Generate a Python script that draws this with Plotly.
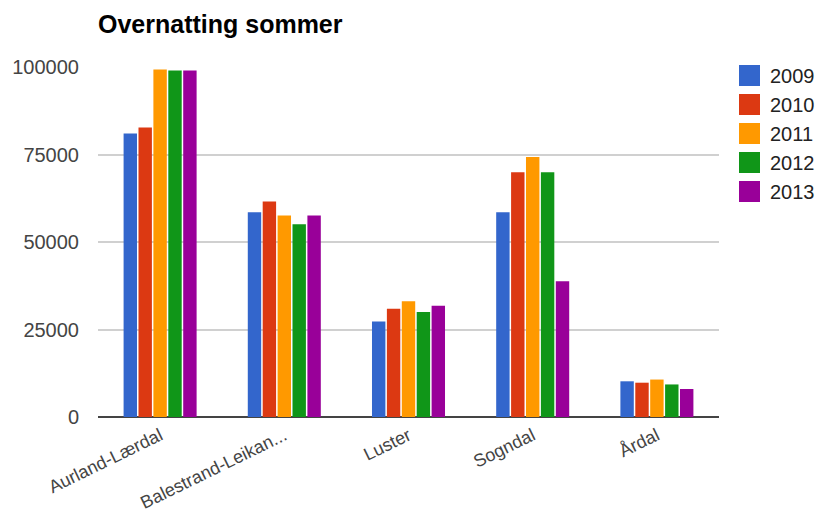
import plotly.graph_objects as go

# Overnight stays, summer season, per region and year
regions = ["Aurland-Lærdal", "Balestrand-Leikan...", "Luster", "Sogndal", "Årdal"]
years = ["2009", "2010", "2011", "2012", "2013"]
colors = ["#3366cc", "#dc3912", "#ff9900", "#109618", "#990099"]

stays_2009 = [81000, 58500, 27300, 58500, 10200]
stays_2010 = [82700, 61600, 30900, 69900, 9800]
stays_2011 = [99300, 57600, 33100, 74300, 10700]
stays_2012 = [99000, 55100, 30000, 69900, 9300]
stays_2013 = [99000, 57600, 31800, 38800, 8000]
series = [stays_2009, stays_2010, stays_2011, stays_2012, stays_2013]

y_ticks = [0, 25000, 50000, 75000, 100000]

FONT = "Arial, Liberation Sans, sans-serif"

fig = go.Figure()
for name, vals, col in zip(years, series, colors):
    fig.add_trace(go.Bar(
        x=regions, y=vals, name=name,
        marker=dict(color=col, line=dict(width=0)),
        showlegend=False,
    ))

# Legend: coloured squares with year labels to the right of the plot
shapes = []
annotations = []
row0, row_step = 8.5, 29.0  # pixel offsets below the plot top
for i, (name, col) in enumerate(zip(years, colors)):
    yc = row0 + i * row_step
    shapes.append(dict(
        type="rect", xref="paper", yref="paper",
        xsizemode="pixel", ysizemode="pixel",
        xanchor=1.0, yanchor=1.0,
        x0=20, x1=41, y0=-(yc + 10.5), y1=-(yc - 10.5),
        fillcolor=col, line=dict(width=0),
    ))
    annotations.append(dict(
        text=name, xref="paper", yref="paper", x=1.0, y=1.0,
        xshift=49, yshift=-yc, xanchor="left", yanchor="middle",
        showarrow=False, font=dict(family=FONT, size=20, color="#222222"),
    ))

# Chart title
annotations.append(dict(
    text="<b>Overnatting sommer</b>", xref="paper", yref="paper",
    x=0.0, y=1.0, xshift=-2, yshift=43, xanchor="left", yanchor="middle",
    showarrow=False, font=dict(family=FONT, size=25, color="#000000"),
))

fig.update_layout(
    width=817, height=517,
    margin=dict(l=98, r=98, t=67, b=100),
    paper_bgcolor="white", plot_bgcolor="white",
    barmode="group", bargap=0.4, bargroupgap=0.1,
    font=dict(family=FONT, size=20, color="#444444"),
    shapes=shapes, annotations=annotations,
    xaxis=dict(
        tickangle=-26, tickfont=dict(size=18, color="#444444"),
        showgrid=False, ticks="", showline=False, zeroline=False,
        ticklabelstandoff=4, automargin=False,
    ),
    yaxis=dict(
        range=[0, 100000], tickvals=y_ticks,
        ticktext=[str(v) for v in y_ticks],
        showgrid=True, gridcolor="#d0d0d0", gridwidth=1.5,
        zeroline=True, zerolinecolor="#444444", zerolinewidth=2,
        showline=False, ticks="", ticklabelstandoff=18,
        tickfont=dict(size=20, color="#444444"),
        automargin=False,
    ),
)

fig.write_html("out.html")
